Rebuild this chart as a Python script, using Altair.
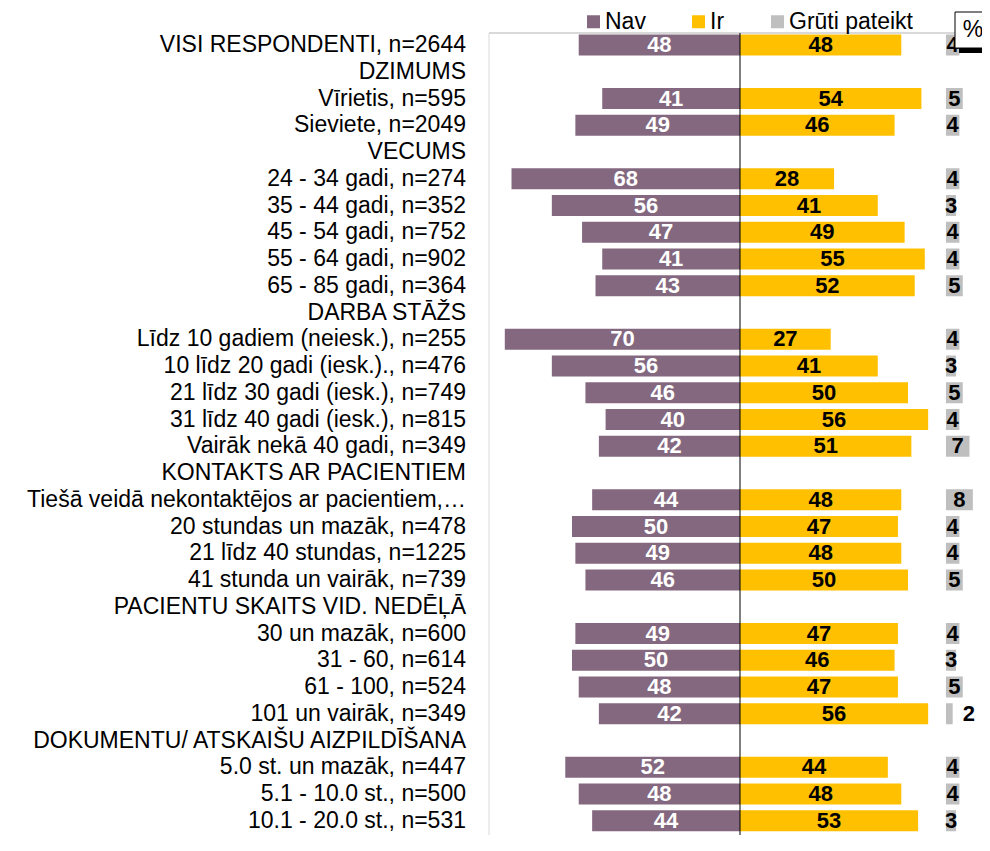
import altair as alt
import pandas as pd

categories = [
    "VISI RESPONDENTI, n=2644",
    "DZIMUMS",
    "Vīrietis, n=595",
    "Sieviete, n=2049",
    "VECUMS",
    "24 - 34 gadi, n=274",
    "35 - 44 gadi, n=352",
    "45 - 54 gadi, n=752",
    "55 - 64 gadi, n=902",
    "65 - 85 gadi, n=364",
    "DARBA STĀŽS",
    "Līdz 10 gadiem (neiesk.), n=255",
    "10 līdz 20 gadi (iesk.)., n=476",
    "21 līdz 30 gadi (iesk.), n=749",
    "31 līdz 40 gadi (iesk.), n=815",
    "Vairāk nekā 40 gadi, n=349",
    "KONTAKTS AR PACIENTIEM",
    "Tiešā veidā nekontaktējos ar pacientiem, n=202",
    "20 stundas un mazāk, n=478",
    "21 līdz 40 stundas, n=1225",
    "41 stunda un vairāk, n=739",
    "PACIENTU SKAITS VID. NEDĒĻĀ",
    "30 un mazāk, n=600",
    "31 - 60, n=614",
    "61 - 100, n=524",
    "101 un vairāk, n=349",
    "DOKUMENTU/ ATSKAIŠU AIZPILDĪŠANA",
    "5.0 st. un mazāk, n=447",
    "5.1 - 10.0 st., n=500",
    "10.1 - 20.0 st., n=531",
]

nav = [48, None, 41, 49, None, 68, 56, 47, 41, 43, None, 70, 56, 46, 40, 42,
       None, 44, 50, 49, 46, None, 49, 50, 48, 42, None, 52, 48, 44]
ir = [48, None, 54, 46, None, 28, 41, 49, 55, 52, None, 27, 41, 50, 56, 51,
      None, 48, 47, 48, 50, None, 47, 46, 47, 56, None, 44, 48, 53]
gruti = [4, None, 5, 4, None, 4, 3, 4, 4, 5, None, 4, 3, 5, 4, 7,
         None, 8, 4, 4, 5, None, 4, 3, 5, 2, None, 4, 4, 3]

series_names = ["Nav", "Ir", "Grūti pateikt"]
series_colors = ["#83687F", "#FFC000", "#BFBFBF"]

FONT = "Liberation Sans"
W, H = 493, 802
STEP = 26.75                 # pixels per row
Y_MIN = -12.0 / STEP         # first row centre sits 12 px below the frame
Y_MAX = Y_MIN + H / STEP
PX_PER_UNIT = 3.36
X_MIN = -251 / PX_PER_UNIT   # zero line 251 px right of the frame
X_MAX = X_MIN + W / PX_PER_UNIT
GREY_START = 61.3            # where the "Grūti pateikt" column begins on the x scale
HALF_BAR = 10.5 / STEP       # half bar thickness in row units

rows = []
for i, c in enumerate(categories):
    if nav[i] is None:
        continue
    base_row = dict(cat=c, idx=i, y0=i - HALF_BAR, y1=i + HALF_BAR)
    rows.append(dict(base_row, series="Nav", x0=-nav[i], x1=0, lx=-nav[i] / 2, val=nav[i]))
    rows.append(dict(base_row, series="Ir", x0=0, x1=ir[i], lx=ir[i] / 2, val=ir[i]))
    g = gruti[i]
    lx = GREY_START + g / 2 if g > 2 else GREY_START + g + 4.8
    rows.append(dict(base_row, series="Grūti pateikt", x0=GREY_START, x1=GREY_START + g, lx=lx, val=g))
df = pd.DataFrame(rows)
cats_df = pd.DataFrame({"cat": categories, "idx": list(range(len(categories)))})
one = pd.DataFrame({"z": [0]})

xscale = alt.Scale(domain=[X_MIN, X_MAX], nice=False, zero=False)
yscale = alt.Scale(domain=[Y_MIN, Y_MAX], reverse=True, nice=False, zero=False)

base = alt.Chart(df)

bars = base.mark_bar().encode(
    x=alt.X("x0:Q", scale=xscale, axis=None),
    x2="x1:Q",
    y=alt.Y("y0:Q", scale=yscale, axis=None),
    y2="y1:Q",
    color=alt.Color(
        "series:N",
        scale=alt.Scale(domain=series_names, range=series_colors),
        legend=alt.Legend(orient="none", legendX=93, legendY=-23, direction="horizontal",
                          title=None, symbolType="square", symbolSize=169,
                          symbolStrokeWidth=0, labelFontSize=23, labelFont=FONT,
                          labelColor="black", columnPadding=41, labelOffset=0, padding=0),
    ),
)

cat_labels = alt.Chart(cats_df).mark_text(
    align="right", baseline="middle", fontSize=23, font=FONT, color="black", limit=442
).encode(
    x=alt.value(-23),
    y=alt.Y("idx:Q", scale=yscale, axis=None),
    text="cat:N",
)

frame_top = alt.Chart(one).mark_rule(color="#d9d9d9", strokeWidth=2).encode(
    x=alt.value(0), x2=alt.value(W), y=alt.value(0))
frame_left = alt.Chart(one).mark_rule(color="#d9d9d9", strokeWidth=1).encode(
    x=alt.value(0), y=alt.value(0), y2=alt.value(H + 10))

zero_line = alt.Chart(one).mark_rule(color="black", strokeWidth=1).encode(
    x=alt.X("z:Q", scale=xscale, axis=None), y=alt.value(0), y2=alt.value(H + 10))

nav_text = base.transform_filter(alt.datum.series == "Nav").mark_text(
    color="white", fontWeight="bold", fontSize=22, font=FONT, baseline="middle"
).encode(x=alt.X("lx:Q", scale=xscale, axis=None),
         y=alt.Y("idx:Q", scale=yscale, axis=None), text="val:Q")

other_text = base.transform_filter(alt.datum.series != "Nav").mark_text(
    color="black", fontWeight="bold", fontSize=22, font=FONT, baseline="middle"
).encode(x=alt.X("lx:Q", scale=xscale, axis=None),
         y=alt.Y("idx:Q", scale=yscale, axis=None), text="val:Q")

box_shadow = alt.Chart(one).mark_rect(color="black").encode(
    x=alt.value(470), x2=alt.value(506), y=alt.value(-17), y2=alt.value(20))
box = alt.Chart(one).mark_rect(fill="white", stroke="black", strokeWidth=1).encode(
    x=alt.value(466), x2=alt.value(502), y=alt.value(-21), y2=alt.value(15))
box_text = alt.Chart(one).mark_text(text="%", fontSize=23, font=FONT, color="black",
                                    baseline="middle").encode(
    x=alt.value(484), y=alt.value(-3))

chart = alt.layer(
    frame_top, frame_left, cat_labels, bars, zero_line, nav_text, other_text,
    box_shadow, box, box_text
).properties(
    width=W, height=H,
    autosize=alt.AutoSizeParams(type="none"),
    padding={"left": 481, "top": 25, "right": 0, "bottom": 0},
).configure(font=FONT).configure_view(stroke=None)

chart.save("out.html", embed_options={"renderer": "svg", "actions": False})
